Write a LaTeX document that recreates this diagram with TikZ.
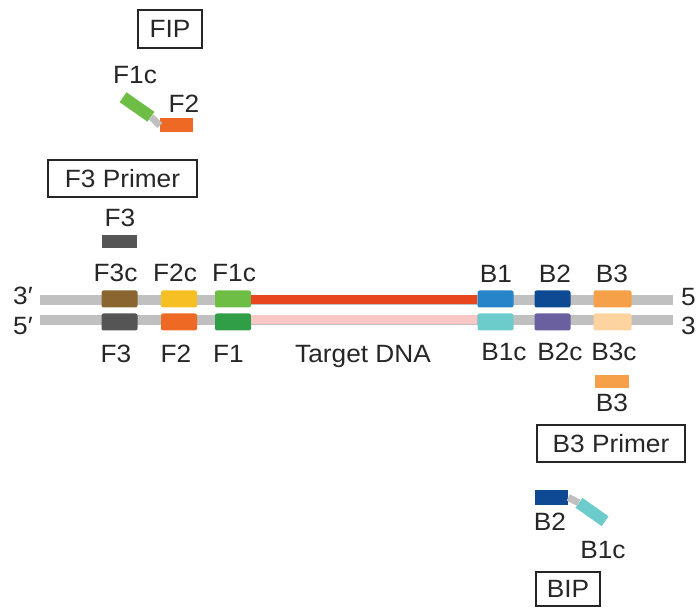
\documentclass[tikz,border=0pt]{standalone}
\usepackage{fontspec}
\setmainfont{Liberation Sans}[FakeStretch=1.05]
\definecolor{strand}{RGB}{192,192,192}
\definecolor{cFthreec}{RGB}{139,101,48}
\definecolor{cFtwoc}{RGB}{246,192,36}
\definecolor{cFonec}{RGB}{110,190,70}
\definecolor{cTarget}{RGB}{232,70,30}
\definecolor{cFthree}{RGB}{85,85,85}
\definecolor{cFtwo}{RGB}{238,106,36}
\definecolor{cFone}{RGB}{48,158,70}
\definecolor{cPink}{RGB}{249,200,198}
\definecolor{cBone}{RGB}{40,132,200}
\definecolor{cBtwo}{RGB}{14,74,148}
\definecolor{cBthree}{RGB}{246,160,74}
\definecolor{cBonec}{RGB}{108,204,204}
\definecolor{cBtwoc}{RGB}{106,96,160}
\definecolor{cBthreec}{RGB}{253,211,160}
\begin{document}
\begin{tikzpicture}[x=1pt,y=-1pt,
  lbl/.style={font=\fontsize{25}{25}\selectfont, inner sep=0pt, text=black!85},
  seg/.style={minimum width=36pt, minimum height=17pt, inner sep=0pt, rounded corners=2pt},
  bar/.style={minimum width=33pt, minimum height=14pt, inner sep=0pt},
  titlebox/.style={draw=black!85, line width=2.5pt, font=\fontsize{25}{25}\selectfont, text=black!85, inner sep=0pt, anchor=center}]
\useasboundingbox (0,0) rectangle (696,609);

% strands
\coordinate (tL) at (40,300);
\coordinate (tR) at (673,300);
\coordinate (bL) at (40,320);
\coordinate (bR) at (673,320);
\draw[strand, line width=10pt] (tL) -- (tR);
\draw[strand, line width=10pt] (bL) -- (bR);

% top strand segments
\node[seg, fill=cFthreec] (F3c) at (119.5,299) {};
\node[seg, fill=cFtwoc] (F2c) at (179,299) {};
\node[seg, fill=cFonec] (F1c) at (233,299) {};
\node[seg, fill=cBone] (B1) at (495.5,299) {};
\node[seg, fill=cBtwo] (B2) at (552.5,299) {};
\node[seg, fill=cBthree, minimum width=38pt] (B3) at (612.5,299) {};
% bottom strand segments
\node[seg, fill=cFthree] (F3) at (119.5,322) {};
\node[seg, fill=cFtwo] (F2) at (179,322) {};
\node[seg, fill=cFone] (F1) at (233,322) {};
\node[seg, fill=cBonec] (B1c) at (495.5,322) {};
\node[seg, fill=cBtwoc] (B2c) at (552.5,322) {};
\node[seg, fill=cBthreec, minimum width=38pt] (B3c) at (612.5,322) {};

% target region
\draw[cTarget, line width=9pt] (F1c.east |- tL) -- (B1.west |- tL);
\draw[cPink, line width=9pt] (F1.east |- bL) -- (B1c.west |- bL);

% strand labels
\node[lbl] (l3a) at (23,296) {3′};
\node[lbl] (l5a) at (23,326) {5′};
\node[lbl, anchor=west] (l5b) at (681,297) {5};
\node[lbl, anchor=west] (l3b) at (681,326) {3};

\node[lbl] (tF3c) at (115.5,273) {F3c};
\node[lbl] (tF2c) at (175,273) {F2c};
\node[lbl] (tF1c) at (234,273) {F1c};
\node[lbl] (tB1) at (496,274) {B1};
\node[lbl] (tB2) at (555,274) {B2};
\node[lbl] (tB3) at (612,274) {B3};

\node[lbl] (tF3) at (116,354) {F3};
\node[lbl] (tF2) at (176,354) {F2};
\node[lbl] (tF1) at (228.5,354) {F1};
\node[lbl] (tTarget) at (363,356) {Target DNA};
\node[lbl] (tB1c) at (504,352) {B1c};
\node[lbl] (tB2c) at (560,352) {B2c};
\node[lbl] (tB3c) at (614,352) {B3c};

% FIP
\node[titlebox, minimum width=64pt, minimum height=38pt] (FIP) at (170,29) {FIP};
\node[lbl] (fF1c) at (135,75) {F1c};
\node[lbl] (fF2) at (184,104) {F2};
\node[bar, fill=cFtwo] (fF2bar) at (176.5,125.5) {};
\node[bar, fill=cFonec, minimum width=34pt, minimum height=12pt, rotate=-35] (fF1cbar) at (137,107) {};
\draw[strand, line width=7pt] (fF1cbar.east) -- (fF2bar.west);

% F3 primer
\node[titlebox, minimum width=149pt, minimum height=37pt] (F3P) at (122.5,178.5) {F3 Primer};
\node[lbl] (pF3) at (120,218) {F3};
\node[bar, fill=cFthree, minimum width=35pt, minimum height=13pt] (pF3bar) at (119.5,241.5) {};

% B3 primer
\node[bar, fill=cBthree, minimum width=34pt, minimum height=13pt] (pB3bar) at (611.5,381.5) {};
\node[lbl] (pB3) at (612,403) {B3};
\node[titlebox, minimum width=148pt, minimum height=37pt] (B3P) at (611,443.5) {B3 Primer};

% BIP
\node[bar, fill=cBtwo, minimum width=33pt, minimum height=15pt] (bB2bar) at (551.5,497.5) {};
\node[bar, fill=cBonec, minimum width=32pt, minimum height=12pt, rotate=-35] (bB1cbar) at (592,512) {};
\draw[strand, line width=7pt] (bB2bar.east) -- (bB1cbar.west);
\node[lbl] (bB2) at (550,522) {B2};
\node[lbl] (bB1c) at (603,550) {B1c};
\node[titlebox, minimum width=64pt, minimum height=34pt] (BIP) at (568,589) {BIP};
\end{tikzpicture}
\end{document}
